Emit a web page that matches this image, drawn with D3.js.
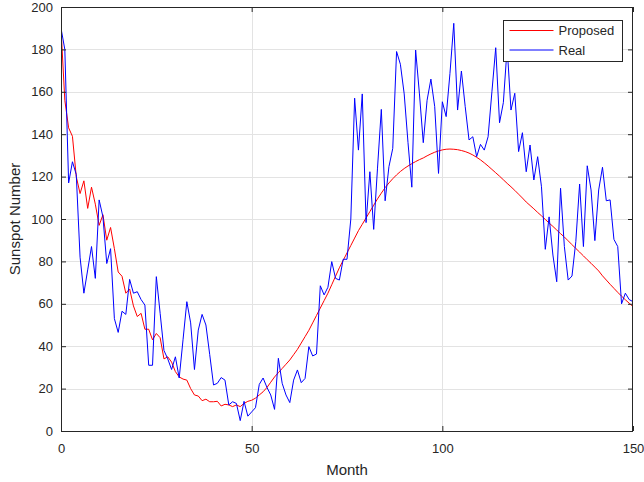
<!DOCTYPE html>
<html>
<head>
<meta charset="utf-8">
<script src="https://cdn.jsdelivr.net/npm/d3@7"></script>
<style>
  body { margin: 0; background: #fff; }
  svg { display: block; font-family: "Liberation Sans", Arial, Helvetica, sans-serif; }
</style>
</head>
<body>
<div id="chart"></div>
<script>
// values, one per month (0..150)
var real = [
  190, 180, 117, 127, 121, 82, 65, 76, 87, 72,
  109, 101, 79, 86, 53, 46.5, 56.5, 55, 71.5, 65,
  65.7, 62, 59.4, 31, 31, 72.8, 55.5, 38, 34, 29,
  35, 25, 43, 61, 51, 29, 47.6, 55, 50, 36,
  21.7, 22.5, 25.2, 24, 12.3, 13.8, 13, 4.9, 14, 7,
  9, 11, 22, 25, 20.6, 17, 10.2, 34.3, 22.5, 17,
  13.4, 24, 28.8, 22.8, 24.8, 39.8, 35.4, 36.3, 68.5, 64.2,
  67.8, 79.9, 72, 71.2, 81, 81, 100, 157, 132.5, 159,
  98.3, 122.3, 95.1, 124, 151.7, 108.6, 124.7, 133.3, 179, 173,
  159, 136, 115, 179.7, 159, 136, 156, 166, 153, 121.5,
  155.3, 148.3, 168.7, 192.3, 151.4, 169.8, 153, 137.3, 138.8, 129.4,
  135.2, 132.5, 138.8, 160, 180.8, 145.4, 154.9, 181, 151.4, 159.3,
  131.8, 140.7, 122.3, 134.9, 118.4, 129.4, 115.2, 85.7, 101, 83,
  70.4, 114.5, 87, 71.2, 73.1, 89.3, 116.5, 87, 125.1, 113.7,
  89.8, 113.7, 124.4, 108.6, 109, 90.4, 87, 60, 65, 62,
  61
];
var proposed = [
  190, 156, 143, 139, 120, 112, 118, 105, 115, 107,
  97, 102, 90, 96, 86, 75, 73, 65, 67, 59,
  54, 55.5, 48, 48, 43, 46, 44, 34, 35, 32.5,
  28, 25.5, 24.5, 24, 20, 17, 16.5, 14.3, 15, 13.8,
  13.8, 14, 11.8, 12.6, 12.3, 11.5, 12.3, 11.5, 13, 14,
  14.5, 15.5, 17, 18.5, 20.5, 23, 25.5, 27.5, 29.5, 31.5,
  33.5, 36, 38.5, 41.5, 44.5, 47.5, 51, 54.5, 58, 61.5,
  65, 69, 73, 77, 80.5, 84, 87.5, 91, 94.5, 97.5,
  100.5, 103.5, 106.5, 109.5, 112.2, 114.8, 117, 119, 120.8, 122.4,
  123.8, 125, 126.1, 127.1, 128, 128.8, 129.8, 130.7, 131.5, 132.1,
  132.6, 132.9, 133, 132.9, 132.7, 132.3, 131.8, 131.1, 130.2, 129.1,
  127.9, 126.5, 125, 123.4, 121.8, 120.2, 118.5, 116.8, 115.2, 113.5,
  111.7, 109.9, 108, 106.4, 104.8, 103.1, 101.5, 99.8, 98.1, 96.5,
  94.8, 93.1, 91.5, 89.7, 87.9, 86.1, 84.4, 82.6, 80.8, 79.1,
  77.3, 75.5, 73.2, 71.2, 69.2, 67.3, 65.4, 63.6, 61.9, 60.3,
  58.7
];
var xTicks = [0, 50, 100, 150];
var yTicks = [0, 20, 40, 60, 80, 100, 120, 140, 160, 180, 200];
var seriesNames = ['Proposed', 'Real'];
var seriesColors = ['#ff0000', '#0000ff'];

var width = 644, height = 482;
var margin = {top: 7, right: 11, bottom: 51, left: 61};
var innerW = width - margin.left - margin.right;
var innerH = height - margin.top - margin.bottom;
var axisColor = '#262626';

var svg = d3.select('#chart').append('svg').attr('width', width).attr('height', height);
var g = svg.append('g').attr('transform', 'translate(' + margin.left + ',' + margin.top + ')');

var x = d3.scaleLinear().domain([0, 150]).range([0, innerW]);
var y = d3.scaleLinear().domain([0, 200]).range([innerH, 0]);

// grid
g.append('g').selectAll('line.gx').data(xTicks.slice(1, -1)).enter().append('line')
  .attr('x1', function(d) { return Math.round(x(d)) + 0.5; })
  .attr('x2', function(d) { return Math.round(x(d)) + 0.5; })
  .attr('y1', 0).attr('y2', innerH)
  .attr('stroke', '#e3e3e3');
g.append('g').selectAll('line.gy').data(yTicks.slice(1, -1)).enter().append('line')
  .attr('y1', function(d) { return Math.round(y(d)) + 0.5; })
  .attr('y2', function(d) { return Math.round(y(d)) + 0.5; })
  .attr('x1', 0).attr('x2', innerW)
  .attr('stroke', '#e3e3e3');

g.append('clipPath').attr('id', 'plot-clip').append('rect')
  .attr('width', innerW).attr('height', innerH);

var line = d3.line()
  .x(function(d, i) { return x(i); })
  .y(function(d) { return y(d); });

var plot = g.append('g').attr('clip-path', 'url(#plot-clip)');
[proposed, real].forEach(function(values, k) {
  plot.append('path').datum(values)
    .attr('d', line)
    .attr('fill', 'none')
    .attr('stroke', seriesColors[k])
    .attr('stroke-width', 1);
});

// axes (ticks inward, box on all sides)
var tickLen = 5;
var xAxis = d3.axisBottom(x).tickValues(xTicks).tickSize(-tickLen).tickPadding(13).tickFormat(d3.format('d'));
var xAxisTop = d3.axisTop(x).tickValues(xTicks).tickSize(-tickLen).tickFormat('');
var yAxis = d3.axisLeft(y).tickValues(yTicks).tickSize(-tickLen).tickPadding(8).tickFormat(d3.format('d'));
var yAxisRight = d3.axisRight(y).tickValues(yTicks).tickSize(-tickLen).tickFormat('');

function styleAxis(sel) {
  sel.selectAll('path').attr('stroke', axisColor);
  sel.selectAll('line').attr('stroke', axisColor);
  sel.selectAll('text').attr('fill', axisColor).style('font-size', '13px');
}

g.append('g').attr('transform', 'translate(0,' + innerH + ')').call(xAxis).call(styleAxis);
g.append('g').call(xAxisTop).call(styleAxis);
g.append('g').call(yAxis).call(styleAxis);
g.append('g').attr('transform', 'translate(' + innerW + ',0)').call(yAxisRight).call(styleAxis);
g.selectAll('.domain').attr('d', null);
g.append('rect')
  .attr('x', 0.5).attr('y', 0.5)
  .attr('width', innerW - 1).attr('height', innerH)
  .attr('fill', 'none').attr('stroke', axisColor).attr('stroke-width', 1);

// labels
svg.append('text')
  .attr('x', margin.left + innerW / 2).attr('y', 475)
  .attr('text-anchor', 'middle').attr('fill', axisColor)
  .style('font-size', '15px').text('Month');
svg.append('text')
  .attr('transform', 'translate(20,' + (margin.top + innerH / 2) + ') rotate(-90)')
  .attr('text-anchor', 'middle').attr('fill', axisColor)
  .style('font-size', '15px').text('Sunspot Number');

// legend
var legend = g.append('g').attr('transform', 'translate(' + (Math.round(x(115.8)) + 0.5) + ',' + 13.5 + ')');
legend.append('rect').attr('width', 119).attr('height', 41)
  .attr('fill', '#fff').attr('stroke', axisColor).attr('stroke-width', 1);
seriesNames.forEach(function(name, k) {
  var row = legend.append('g').attr('transform', 'translate(0,' + (10 + k * 19.5) + ')');
  row.append('line').attr('x1', 6).attr('x2', 50).attr('y1', 0).attr('y2', 0)
    .attr('stroke', seriesColors[k]).attr('stroke-width', 1);
  row.append('text').attr('x', 55).attr('y', 4.5).attr('fill', axisColor)
    .style('font-size', '13px').text(name);
});
</script>
</body>
</html>
